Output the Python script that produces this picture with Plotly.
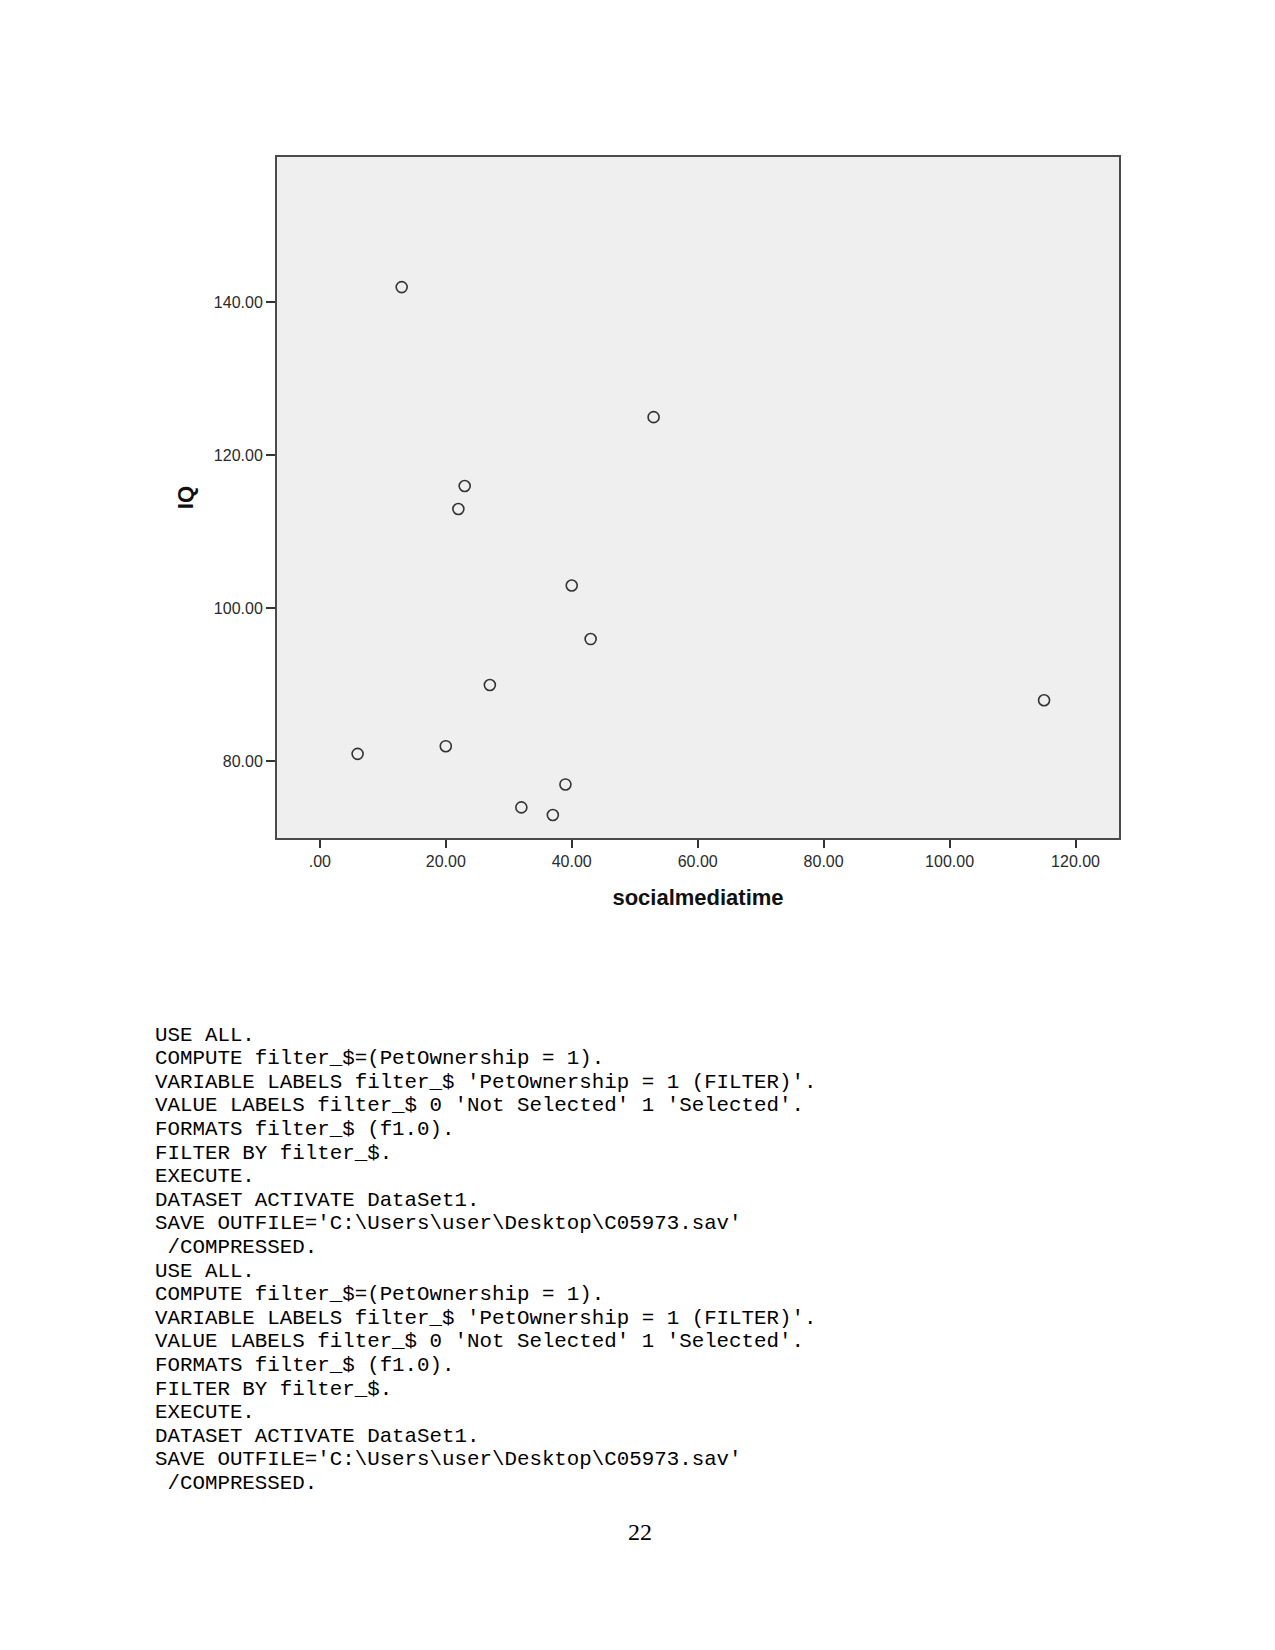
import plotly.graph_objects as go

# ---- data ----
social_media_time = [6, 13, 20, 22, 23, 27, 32, 37, 39, 40, 43, 53, 115]
iq = [81, 142, 82, 113, 116, 90, 74, 73, 77, 103, 96, 125, 88]

x_tick_vals = [0, 20, 40, 60, 80, 100, 120]
x_tick_text = [".00", "20.00", "40.00", "60.00", "80.00", "100.00", "120.00"]
y_tick_vals = [80, 100, 120, 140]
y_tick_text = ["80.00", "100.00", "120.00", "140.00"]

syntax_lines = [
    "USE ALL.",
    "COMPUTE filter_$=(PetOwnership = 1).",
    "VARIABLE LABELS filter_$ 'PetOwnership = 1 (FILTER)'.",
    "VALUE LABELS filter_$ 0 'Not Selected' 1 'Selected'.",
    "FORMATS filter_$ (f1.0).",
    "FILTER BY filter_$.",
    "EXECUTE.",
    "DATASET ACTIVATE DataSet1.",
    "SAVE OUTFILE='C:\\Users\\user\\Desktop\\C05973.sav'",
    " /COMPRESSED.",
    "USE ALL.",
    "COMPUTE filter_$=(PetOwnership = 1).",
    "VARIABLE LABELS filter_$ 'PetOwnership = 1 (FILTER)'.",
    "VALUE LABELS filter_$ 0 'Not Selected' 1 'Selected'.",
    "FORMATS filter_$ (f1.0).",
    "FILTER BY filter_$.",
    "EXECUTE.",
    "DATASET ACTIVATE DataSet1.",
    "SAVE OUTFILE='C:\\Users\\user\\Desktop\\C05973.sav'",
    " /COMPRESSED.",
]
page_number = "22"

# ---- layout geometry (pixels) ----
W, H = 1275, 1650
PL, PR, PT, PB = 277, 1119, 157, 838  # plot area edges


def px_x(px):
    return (px - PL) / (PR - PL)


def px_y(py):
    return (PB - py) / (PB - PT)


fig = go.Figure()
fig.add_trace(go.Scatter(
    x=social_media_time, y=iq, mode="markers",
    marker=dict(symbol="circle-open", size=11, color="#333333",
                line=dict(width=1.6, color="#333333")),
    showlegend=False, hoverinfo="x+y",
))

tick_font = dict(family="Liberation Sans, Arial, sans-serif", size=16, color="#2a2a2a")
title_font = dict(family="Liberation Sans, Arial, sans-serif", size=22, color="#111111")

fig.update_layout(
    width=W, height=H,
    margin=dict(l=PL, r=W - PR, t=PT, b=H - PB, autoexpand=False),
    paper_bgcolor="white", plot_bgcolor="#efefef",
    showlegend=False,
    xaxis=dict(
        range=[-6.8, 126.9], showgrid=False, zeroline=False,
        showline=True, linecolor="#4a4a4a", linewidth=2, mirror=True,
        ticks="outside", ticklen=8, tickwidth=2, tickcolor="#333333",
        tickvals=x_tick_vals, ticktext=x_tick_text, tickfont=tick_font,
        title=dict(text="<b>socialmediatime</b>", font=title_font, standoff=20),
        automargin=False,
    ),
    yaxis=dict(
        range=[70, 159], showgrid=False, zeroline=False,
        showline=True, linecolor="#4a4a4a", linewidth=2, mirror=True,
        ticks="outside", ticklen=9, tickwidth=2, tickcolor="#333333",
        tickvals=y_tick_vals, ticktext=y_tick_text, tickfont=tick_font,
        title=dict(text="<b>IQ</b>", font=title_font, standoff=14),
        automargin=False,
    ),
)

# syntax text block
line0, step = 1035, 23.6
for i, line in enumerate(syntax_lines):
    fig.add_annotation(
        x=px_x(153), y=px_y(line0 + i * step), xref="paper", yref="paper",
        text=line.replace(" ", "\u00a0"), showarrow=False,
        xanchor="left", yanchor="middle",
        font=dict(family="Liberation Mono, Courier New, monospace", size=20.8, color="black"),
    )

fig.add_annotation(
    x=px_x(640), y=px_y(1532), xref="paper", yref="paper",
    text=page_number, showarrow=False, xanchor="center", yanchor="middle",
    font=dict(family="Liberation Serif, Times New Roman, serif", size=24, color="black"),
)

fig.write_html("out.html")
